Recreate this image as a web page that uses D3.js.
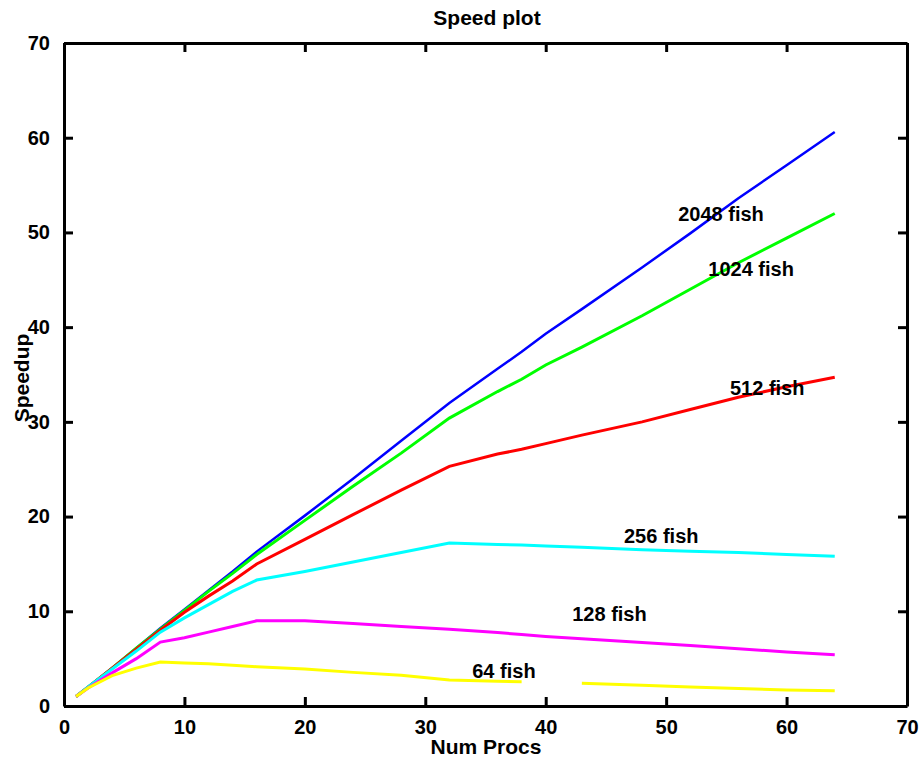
<!DOCTYPE html>
<html>
<head>
<meta charset="utf-8">
<script src="https://cdn.jsdelivr.net/npm/d3@7"></script>
<style>
  body { margin: 0; background: #fff; }
  text { font-family: "Liberation Sans", Arial, sans-serif; font-weight: bold; }
</style>
</head>
<body>
<svg width="919" height="758"></svg>
<script>
// Number of processors (x values shared by all series)
const procs = [1, 2, 4, 6, 8, 10, 12, 14, 16, 20, 24, 28, 32, 36, 38, 40, 43, 48, 52, 56, 60, 64];

// Speedup for each problem size
const fish2048 = [1, 2, 4, 6.1, 8.2, 10.2, 12.2, 14.2, 16.3, 20.1, 24.0, 28.0, 32.0, 35.6, 37.4, 39.3, 41.9, 46.3, 49.9, 53.6, 57.1, 60.6];
const fish1024 = [1, 2, 4, 6.1, 8.1, 10.1, 12.1, 14.0, 16.0, 19.6, 23.2, 26.7, 30.4, 33.2, 34.5, 36.0, 37.9, 41.2, 44.0, 46.8, 49.4, 52.0];
const fish512  = [1, 2, 4, 6.0, 8.0, 9.9, 11.6, 13.2, 15.0, 17.6, 20.2, 22.8, 25.3, 26.6, 27.1, 27.7, 28.6, 30.0, 31.3, 32.6, 33.7, 34.7];
const fish256  = [1, 2, 3.9, 5.8, 7.8, 9.3, 10.7, 12.1, 13.3, 14.2, 15.2, 16.2, 17.2, 17.05, 17.0, 16.9, 16.75, 16.5, 16.35, 16.2, 16.0, 15.8];
const fish128  = [1, 1.9, 3.5, 5.0, 6.75, 7.2, 7.8, 8.4, 9.0, 9.0, 8.7, 8.4, 8.1, 7.75, 7.55, 7.35, 7.1, 6.7, 6.4, 6.05, 5.7, 5.4];
const fish64   = [1, 1.9, 3.2, 4.0, 4.65, 4.55, 4.45, 4.3, 4.15, 3.9, 3.55, 3.25, 2.75, 2.6, 2.55, null, 2.4, 2.2, 2.0, 1.85, 1.7, 1.6];

const seriesNames = ["2048 fish", "1024 fish", "512 fish", "256 fish", "128 fish", "64 fish"];
const seriesValues = [fish2048, fish1024, fish512, fish256, fish128, fish64];
const seriesColors = ["#0000ff", "#00ff00", "#ff0000", "#00ffff", "#ff00ff", "#ffff00"];

// Where each label sits, in data units (left edge, baseline)
const labelX = [51.0, 53.5, 55.3, 46.5, 42.2, 33.9];
const labelY = [51.2, 45.4, 32.8, 17.2, 9.0, 2.96];

const tickVals = [0, 10, 20, 30, 40, 50, 60, 70];

const svg = d3.select("svg");

const x = d3.scaleLinear().domain([0, 70]).range([64, 907]);
const y = d3.scaleLinear().domain([0, 70]).range([706, 43]);

// Series lines
const line = d3.line()
  .defined(d => d[1] !== null)
  .x(d => x(d[0]))
  .y(d => y(d[1]));

seriesValues.forEach(function(vals, i) {
  const pts = procs.map((p, j) => [p, vals[j]]);
  svg.append("path")
    .datum(pts)
    .attr("fill", "none")
    .attr("stroke", seriesColors[i])
    .attr("stroke-width", i === 0 ? 2.5 : 3)
    .attr("d", line);
});

// Axes: ticks pointing inward on all four sides
function styleAxis(g) {
  g.select(".domain").attr("stroke", "#000").attr("stroke-width", 3);
  g.selectAll(".tick line").attr("stroke", "#000").attr("stroke-width", 3);
  g.selectAll(".tick text").attr("fill", "#000").style("font-size", "20px");
}

svg.append("g")
  .attr("transform", "translate(0," + y(0) + ")")
  .call(d3.axisBottom(x).tickValues(tickVals).tickSizeInner(-9).tickSizeOuter(0).tickPadding(24))
  .call(styleAxis)
  .call(g => g.selectAll(".tick text").attr("dy", "0.2em"));

svg.append("g")
  .attr("transform", "translate(0," + y(70) + ")")
  .call(d3.axisTop(x).tickValues(tickVals).tickSizeInner(-9).tickSizeOuter(0).tickFormat(""))
  .call(styleAxis);

svg.append("g")
  .attr("transform", "translate(" + x(0) + ",0)")
  .call(d3.axisLeft(y).tickValues(tickVals).tickSizeInner(-9).tickSizeOuter(0).tickPadding(14))
  .call(styleAxis);

svg.append("g")
  .attr("transform", "translate(" + x(70) + ",0)")
  .call(d3.axisRight(y).tickValues(tickVals).tickSizeInner(-9).tickSizeOuter(0).tickFormat(""))
  .call(styleAxis);

// Series labels
svg.selectAll(".series-label")
  .data(seriesNames)
  .enter().append("text")
  .attr("class", "series-label")
  .attr("x", (d, i) => x(labelX[i]))
  .attr("y", (d, i) => y(labelY[i]))
  .style("font-size", "20px")
  .text(d => d);

// Title and axis titles
svg.append("text")
  .attr("x", 487).attr("y", 25)
  .attr("text-anchor", "middle")
  .style("font-size", "21px")
  .text("Speed plot");

svg.append("text")
  .attr("x", 486).attr("y", 754)
  .attr("text-anchor", "middle")
  .style("font-size", "21px")
  .text("Num Procs");

svg.append("text")
  .attr("transform", "translate(29,378) rotate(-90)")
  .attr("text-anchor", "middle")
  .style("font-size", "21px")
  .text("Speedup");
</script>
</body>
</html>
